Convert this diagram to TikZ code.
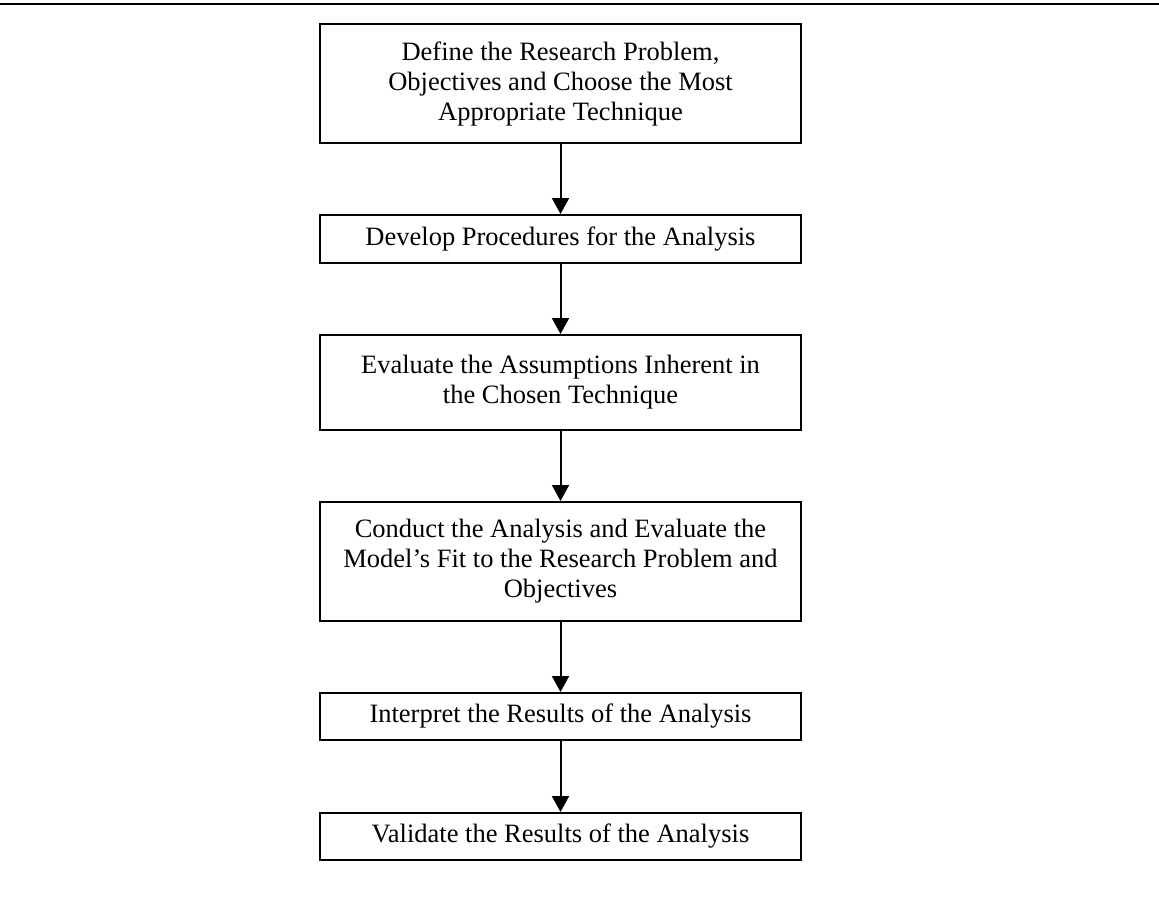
\documentclass[tikz,border=0pt]{standalone}
\usepackage{fontspec}
\setmainfont{Liberation Serif}
\usetikzlibrary{arrows.meta}
\begin{document}
\begin{tikzpicture}[x=1pt,y=-1pt,
  stepbox/.style={draw, line width=2pt, minimum width=481pt, inner sep=0pt,
    align=center, font=\fontsize{26.5}{30}\selectfont},
  flow/.style={line width=2pt, -{Triangle[width=17pt,length=16pt]}}]
\useasboundingbox (0,0) rectangle (1159,915);

% rule across the top of the page
\coordinate (ruleL) at (0,4);
\coordinate (ruleR) at (1159,4);
\draw[line width=2.2pt] (ruleL) -- (ruleR);

% process steps
\node[stepbox, minimum height=119pt] (s1) at (560.5,83.5)
  {Define the Research Problem,\\Objectives and Choose the Most\\Appropriate Technique};
\node[stepbox, minimum height=48pt] (s2) at (560.5,239)
  {Develop Procedures for the Analysis};
\node[stepbox, minimum height=95pt] (s3) at (560.5,382.5)
  {Evaluate the Assumptions Inherent in\\the Chosen Technique};
\node[stepbox, minimum height=119pt] (s4) at (560.5,561.5)
  {Conduct the Analysis and Evaluate the\\Model’s Fit to the Research Problem and\\Objectives};
\node[stepbox, minimum height=47pt] (s5) at (560.5,716.5)
  {Interpret the Results of the Analysis};
\node[stepbox, minimum height=47pt] (s6) at (560.5,836.5)
  {Validate the Results of the Analysis};

% arrows between steps
\draw[flow] (s1) -- (s2);
\draw[flow] (s2) -- (s3);
\draw[flow] (s3) -- (s4);
\draw[flow] (s4) -- (s5);
\draw[flow] (s5) -- (s6);
\end{tikzpicture}
\end{document}
